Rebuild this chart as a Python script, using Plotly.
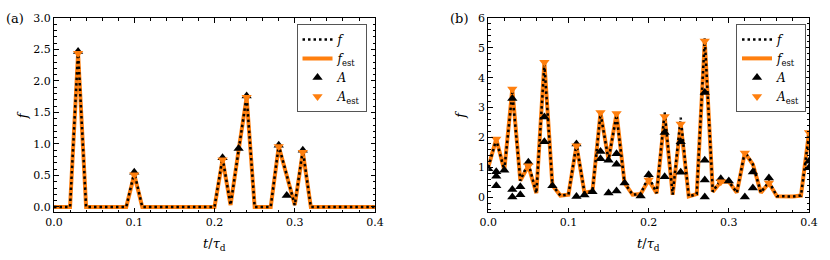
import plotly.graph_objects as go

# ---------------- data: panel (a) ----------------
t_grid = [round(0.01 * k, 2) for k in range(41)]
f_a = [0, 0, 0, 2.47, 0, 0, 0, 0, 0, 0,
       0.55, 0, 0, 0, 0, 0, 0, 0, 0, 0,
       0, 0.78, 0.03, 0.9, 1.76, 0, 0, 0, 0.98, 0.5,
       0.03, 0.9, 0, 0, 0, 0, 0, 0, 0, 0, 0]
fest_a = [0, 0, 0, 2.44, 0, 0, 0, 0, 0, 0,
          0.51, 0, 0, 0, 0, 0, 0, 0, 0, 0,
          0, 0.75, 0.03, 0.9, 1.74, 0, 0, 0, 0.96, 0.5,
          0.03, 0.87, 0, 0, 0, 0, 0, 0, 0, 0, 0]
tA_a = [0.03, 0.10, 0.21, 0.23, 0.24, 0.28, 0.29, 0.31]
A_a = [2.47, 0.55, 0.78, 0.93, 1.76, 0.98, 0.18, 0.90]
tAest_a = [0.03, 0.10, 0.21, 0.24, 0.28, 0.31]
Aest_a = [2.44, 0.51, 0.75, 1.74, 0.96, 0.87]

# ---------------- data: panel (b) ----------------
f_b = [1.0, 1.93, 0.9, 3.5, 0.55, 1.15, 0.13, 4.45, 0.4, 0.05,
       0.08, 1.78, 0.15, 0.2, 2.8, 1.25, 2.75, 0.47, 0.08, 0.1,
       0.7, 0.13, 2.84, 0.08, 2.66, 0.02, 0.1, 5.32, 0.18, 0.58,
       0.52, 0.15, 1.52, 1.1, 0.15, 0.52, 0.03, 0.02, 0.02, 0.05, 2.1]
fest_b = [1.0, 1.95, 0.9, 3.62, 0.55, 1.05, 0.13, 4.52, 0.4, 0.05,
          0.08, 1.72, 0.15, 0.2, 2.83, 1.25, 2.8, 0.47, 0.08, 0.1,
          0.57, 0.13, 2.7, 0.08, 2.45, 0.02, 0.1, 5.23, 0.18, 0.51,
          0.52, 0.15, 1.48, 1.1, 0.15, 0.47, 0.03, 0.02, 0.02, 0.05, 2.16]
tA_b = [0.00, 0.01, 0.01, 0.01, 0.02, 0.03, 0.03, 0.03, 0.04, 0.04,
        0.05, 0.07, 0.07, 0.08, 0.11, 0.11, 0.12, 0.13, 0.14, 0.14,
        0.15, 0.15, 0.16, 0.16, 0.16, 0.17, 0.19, 0.20, 0.22, 0.22,
        0.24, 0.24, 0.27, 0.27, 0.27, 0.27, 0.29, 0.30, 0.32, 0.33,
        0.33, 0.35, 0.40, 0.40]
A_b = [0.95, 0.85, 0.70, 0.38, 0.90, 3.30, 0.25, 0.00, 0.35, 0.08,
       1.17, 2.68, 1.85, 0.38, 1.78, 0.02, 0.07, 0.18, 1.53, 1.28,
       1.23, 0.14, 1.45, 1.10, 0.20, 0.47, 0.04, 0.75, 2.16, 0.68,
       1.85, 0.83, 3.50, 1.23, 0.57, 0.00, 0.61, 0.54, 0.00, 0.84,
       0.30, 0.64, 1.20, 0.98]
tAest_b = [0.01, 0.03, 0.05, 0.07, 0.11, 0.14, 0.16, 0.20, 0.22, 0.24,
           0.27, 0.29, 0.32, 0.35, 0.40]
Aest_b = [1.95, 3.62, 1.05, 4.52, 1.72, 2.83, 2.80, 0.57, 2.70, 2.45,
          5.23, 0.51, 1.48, 0.47, 2.16]

x_ticks = [0.0, 0.1, 0.2, 0.3, 0.4]
x_ticklabels = ["0.0", "0.1", "0.2", "0.3", "0.4"]
ya_ticks = [0.0, 0.5, 1.0, 1.5, 2.0, 2.5, 3.0]
ya_ticklabels = ["0.0", "0.5", "1.0", "1.5", "2.0", "2.5", "3.0"]
yb_ticks = [0, 1, 2, 3, 4, 5, 6]
yb_ticklabels = ["0", "1", "2", "3", "4", "5", "6"]

ORANGE = "#ff7f0e"
FONT = "DejaVu Serif"

fig = go.Figure()


def add_panel(xa, ya, leg, f, fest, tA, A, tAe, Ae):
    fig.add_trace(go.Scatter(x=t_grid, y=fest, mode="lines", name="<i>f</i><sub>est</sub>",
                             line=dict(color=ORANGE, width=4), xaxis=xa, yaxis=ya,
                             legend=leg, legendrank=2))
    fig.add_trace(go.Scatter(x=t_grid, y=f, mode="lines", name="<i>f</i>",
                             line=dict(color="black", width=2.5, dash="2.5px,3px"),
                             xaxis=xa, yaxis=ya, legend=leg, legendrank=1))
    fig.add_trace(go.Scatter(x=tA, y=A, mode="markers", name="<i>A</i>",
                             marker=dict(symbol="triangle-up", color="black", size=9),
                             xaxis=xa, yaxis=ya, legend=leg, legendrank=3))
    fig.add_trace(go.Scatter(x=tAe, y=Ae, mode="markers", name="<i>A</i><sub>est</sub>",
                             marker=dict(symbol="triangle-down", color=ORANGE, size=9),
                             xaxis=xa, yaxis=ya, legend=leg, legendrank=4))


add_panel("x", "y", "legend", f_a, fest_a, tA_a, A_a, tAest_a, Aest_a)
add_panel("x2", "y2", "legend2", f_b, fest_b, tA_b, A_b, tAest_b, Aest_b)

W, H = 830, 260
ml, mr, mt, mb = 54, 15, 14, 48
pw = W - ml - mr
ph = H - mt - mb


def px_x(px):
    return (px - ml) / pw


def px_y(py):
    return 1 - (py - mt) / ph


axis_common = dict(
    showline=True, linecolor="black", linewidth=1, mirror="ticks",
    ticks="inside", ticklen=4.5, tickwidth=1, tickcolor="black",
    showgrid=False, zeroline=False,
    tickfont=dict(family=FONT, size=11, color="black"),
)

ann_font = dict(family=FONT, size=13, color="black")

fig.update_layout(
    width=W, height=H,
    margin=dict(l=ml, r=mr, t=mt, b=mb),
    paper_bgcolor="white", plot_bgcolor="white",
    font=dict(family=FONT, size=12, color="black"),
    xaxis=dict(domain=[0, px_x(377.6)], range=[0, 0.4], anchor="y",
               tickvals=x_ticks, ticktext=x_ticklabels,
               minor=dict(dtick=0.02, ticks="inside", ticklen=2.5, tickcolor="black"),
               **axis_common),
    yaxis=dict(domain=[0, 1], range=[-0.08, 3.0], anchor="x",
               tickvals=ya_ticks, ticktext=ya_ticklabels,
               minor=dict(dtick=0.1, ticks="inside", ticklen=2.5, tickcolor="black"),
               **axis_common),
    xaxis2=dict(domain=[px_x(491.7), px_x(815)], range=[0, 0.4], anchor="y2",
                tickvals=x_ticks, ticktext=x_ticklabels,
                minor=dict(dtick=0.02, ticks="inside", ticklen=2.5, tickcolor="black"),
                **axis_common),
    yaxis2=dict(domain=[0, 1], range=[-0.5, 6.0], anchor="x2",
                tickvals=yb_ticks, ticktext=yb_ticklabels,
                minor=dict(dtick=0.2, ticks="inside", ticklen=2.5, tickcolor="black"),
                **axis_common),
    legend=dict(x=px_x(369), xanchor="right", y=px_y(20), yanchor="top",
                bordercolor="#555555", borderwidth=1, bgcolor="white",
                font=dict(family=FONT, size=12), tracegroupgap=0),
    legend2=dict(x=px_x(812), xanchor="right", y=px_y(20), yanchor="top",
                 bordercolor="#555555", borderwidth=1, bgcolor="white",
                 font=dict(family=FONT, size=12), tracegroupgap=0),
    annotations=[
        dict(text="(a)", x=px_x(4), y=px_y(14), xref="paper", yref="paper",
             xanchor="left", yanchor="middle", showarrow=False, font=ann_font),
        dict(text="(b)", x=px_x(451), y=px_y(14), xref="paper", yref="paper",
             xanchor="left", yanchor="middle", showarrow=False, font=ann_font),
        dict(text="<i>t</i>/<i>τ</i><sub>d</sub>", x=px_x(215.5), y=px_y(245), xref="paper", yref="paper",
             xanchor="center", yanchor="middle", showarrow=False, font=ann_font),
        dict(text="<i>t</i>/<i>τ</i><sub>d</sub>", x=px_x(653.3), y=px_y(245), xref="paper", yref="paper",
             xanchor="center", yanchor="middle", showarrow=False, font=ann_font),
        dict(text="<i>f</i>", x=px_x(22), y=px_y(113), xref="paper", yref="paper", textangle=-90,
             xanchor="center", yanchor="middle", showarrow=False, font=ann_font),
        dict(text="<i>f</i>", x=px_x(463), y=px_y(113), xref="paper", yref="paper", textangle=-90,
             xanchor="center", yanchor="middle", showarrow=False, font=ann_font),
    ],
)

fig.write_html("out.html",
               config={"displayModeBar": False},
               post_script="document.body.style.margin='0';document.body.style.overflow='hidden';")
